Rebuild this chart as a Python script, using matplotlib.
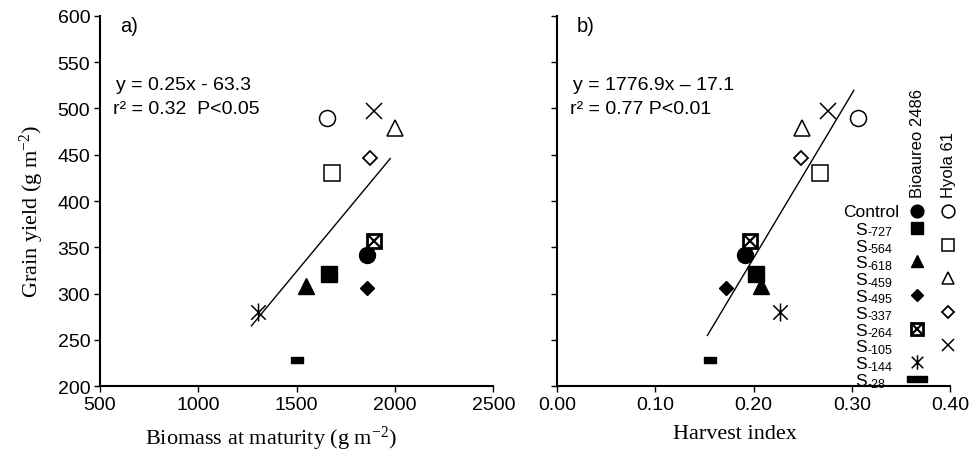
import numpy as np
import matplotlib
matplotlib.use("Agg")
import matplotlib.pyplot as plt
from matplotlib.path import Path

plt.rcParams["font.family"] = ["Liberation Sans", "DejaVu Sans"]
plt.rcParams["mathtext.default"] = "regular"

# data (one entry per point)
treatment = ["Control", "Control", "S-727", "S-564", "S-618", "S-459",
             "S-495", "S-337", "S-264", "S-105", "S-144", "S-28"]
cultivar = ["Bioaureo 2486", "Hyola 61", "Bioaureo 2486", "Hyola 61",
            "Bioaureo 2486", "Hyola 61", "Bioaureo 2486", "Hyola 61",
            "Bioaureo 2486", "Hyola 61", "Bioaureo 2486", "Bioaureo 2486"]
biomass = [1860, 1654, 1667, 1682, 1548, 2001, 1860, 1874, 1891, 1894, 1301, 1504]
grain_yield = [342, 490, 321, 430, 308, 479, 306, 447, 357, 497, 280, 228]
harvest_index = [0.1915, 0.306, 0.2027, 0.268, 0.2078, 0.249,
                 0.1716, 0.248, 0.1966, 0.276, 0.2264, 0.1553]

legend_rows = ["Control", "S-727", "S-564", "S-618", "S-459", "S-495",
               "S-337", "S-264", "S-105", "S-144", "S-28"]

# trend lines as drawn: slope, intercept, x range
trend_a = (0.256, -60.0, 1270, 1976)
trend_b = (1776.9, -17.1, 0.153, 0.302)

eq_a = ["y = 0.25x - 63.3", "r\u00b2 = 0.32  P<0.05"]
eq_b = ["y = 1776.9x \u2013 17.1", "r\u00b2 = 0.77 P<0.01"]

# marker shapes
ASTER = Path([(-1, -1), (1, 1), (-1, 1), (1, -1), (0, -1.25), (0, 1.25)],
             [Path.MOVETO, Path.LINETO, Path.MOVETO, Path.LINETO, Path.MOVETO, Path.LINETO])
DASH = Path([(-1, -0.5), (1, -0.5), (1, 0.5), (-1, 0.5), (-1, -0.5)],
            [Path.MOVETO, Path.LINETO, Path.LINETO, Path.LINETO, Path.CLOSEPOLY])
DASH_LEG = Path([(-1, -0.3), (1, -0.3), (1, 0.3), (-1, 0.3), (-1, -0.3)],
                [Path.MOVETO, Path.LINETO, Path.LINETO, Path.LINETO, Path.CLOSEPOLY])

styles = {
    ("Control", "Bioaureo 2486"): [dict(marker="o", ms=11.5, mfc="k", mec="k")],
    ("Control", "Hyola 61"): [dict(marker="o", ms=11.5, mfc="w", mec="k", mew=1.1)],
    ("S-727", "Bioaureo 2486"): [dict(marker="s", ms=11, mfc="k", mec="k")],
    ("S-564", "Hyola 61"): [dict(marker="s", ms=11, mfc="w", mec="k", mew=1.1)],
    ("S-618", "Bioaureo 2486"): [dict(marker="^", ms=11, mfc="k", mec="k")],
    ("S-459", "Hyola 61"): [dict(marker="^", ms=11, mfc="w", mec="k", mew=1.1)],
    ("S-495", "Bioaureo 2486"): [dict(marker="D", ms=7.5, mfc="k", mec="k")],
    ("S-337", "Hyola 61"): [dict(marker="D", ms=7.5, mfc="w", mec="k", mew=1.3)],
    ("S-264", "Bioaureo 2486"): [dict(marker="s", ms=10, mfc="w", mec="k", mew=2),
                                 dict(marker="x", ms=9.5, mec="k", mew=1.6)],
    ("S-105", "Hyola 61"): [dict(marker="x", ms=11, mec="k", mew=1.1)],
    ("S-144", "Bioaureo 2486"): [dict(marker=ASTER, ms=13, mec="k", mew=1.1)],
    ("S-28", "Bioaureo 2486"): [dict(marker=DASH, ms=9, mfc="k", mec="k")],
}


def style_axes(ax):
    for s in ["top", "right"]:
        ax.spines[s].set_visible(False)
    for s in ["left", "bottom"]:
        ax.spines[s].set_linewidth(1.5)
    ax.tick_params(direction="out", length=4, width=1, labelsize=14, pad=3)


fig = plt.figure(figsize=(9.71, 4.56), dpi=100)
ax1 = fig.add_axes([0.103, 0.151, 0.405, 0.812])
ax2 = fig.add_axes([0.5736, 0.151, 0.405, 0.812])

for ax, xv, trend, eq, tag in [(ax1, biomass, trend_a, eq_a, "a)"),
                               (ax2, harvest_index, trend_b, eq_b, "b)")]:
    for x, y, t, c in zip(xv, grain_yield, treatment, cultivar):
        for st in styles[(t, c)]:
            ax.plot(x, y, linestyle="none", zorder=3, **st)
    k, b, x0, x1 = trend
    lx = np.array([x0, x1])
    ax.plot(lx, k * lx + b, color="k", lw=1, zorder=2)
    ax.text(0.05, 0.975, tag, transform=ax.transAxes, fontsize=14.5, va="center")
    ax.text(0.04, 0.814, eq[0], transform=ax.transAxes, fontsize=14, va="center")
    ax.text(0.033, 0.751, eq[1], transform=ax.transAxes, fontsize=14, va="center")
    ax.set_ylim(200, 600)
    ax.set_yticks(np.arange(200, 601, 50))
    style_axes(ax)

ax1.set_xlim(500, 2500)
ax1.set_xticks(np.arange(500, 2501, 500))
ax1.set_xlabel("Biomass at maturity (g m$^{-2}$)", family="Liberation Serif",
               fontsize=16, labelpad=8)
ax1.xaxis.label.set_x(0.435)
ax1.set_ylabel("Grain yield (g m$^{-2}$)", family="Liberation Serif",
               fontsize=16, labelpad=8)
ax1.yaxis.label.set_y(0.475)

ax2.set_xlim(0, 0.40)
ax2.set_xticks(np.arange(0, 0.41, 0.1))
ax2.set_xticklabels(["%.2f" % v for v in np.arange(0, 0.41, 0.1)])
ax2.set_yticklabels([])
ax2.set_xlabel("Harvest index", family="Liberation Serif", fontsize=16, labelpad=8)
ax2.xaxis.label.set_x(0.453)

# legend drawn by hand inside panel b
row_y = 0.473 - 0.0454 * np.arange(len(legend_rows))
col_x = {"Bioaureo 2486": 0.916, "Hyola 61": 0.995}
for name, cx in col_x.items():
    ax2.text(cx, 0.51, name, transform=ax2.transAxes, rotation=90,
             ha="center", va="bottom", fontsize=12)
for i, row in enumerate(legend_rows):
    if row.startswith("S-"):
        ax2.text(0.758, row_y[i] - 0.016, "S", transform=ax2.transAxes,
                 ha="left", va="baseline", fontsize=12.5)
        ax2.text(0.789, row_y[i] - 0.02, row[1:], transform=ax2.transAxes,
                 ha="left", va="baseline", fontsize=9)
    else:
        ax2.text(0.87, row_y[i], row, transform=ax2.transAxes,
                 ha="right", va="center", fontsize=12.5)
    for c in col_x:
        if (row, c) in styles:
            for st in styles[(row, c)]:
                st = dict(st)
                if st["marker"] is DASH:
                    st["marker"] = DASH_LEG
                    st["ms"] = 14
                else:
                    st["ms"] = st["ms"] * 0.8
                ax2.plot(col_x[c], row_y[i], transform=ax2.transAxes,
                         linestyle="none", clip_on=False, **st)

fig.savefig("out.png", dpi=100)
